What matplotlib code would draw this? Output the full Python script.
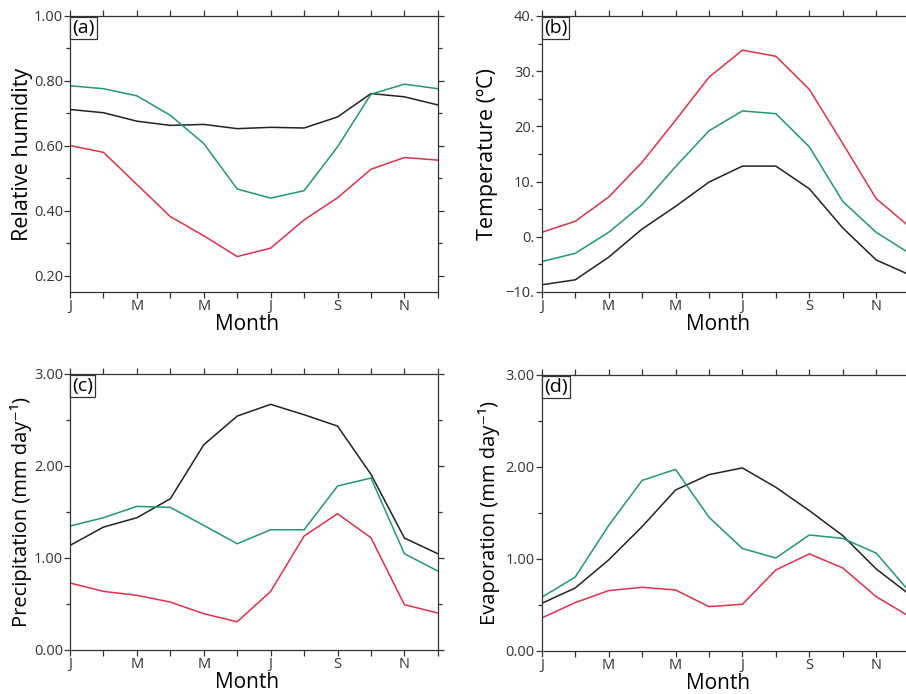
import matplotlib
matplotlib.use("Agg")
import matplotlib.pyplot as plt
from matplotlib.ticker import MultipleLocator, FuncFormatter

plt.rcParams["font.family"] = ["Open Sans", "DejaVu Sans"]

months = list(range(12))
month_labels = ["J", "", "M", "", "M", "", "J", "", "S", "", "N", ""]

# (a) relative humidity
rh_black = [0.712, 0.702, 0.676, 0.663, 0.666, 0.653, 0.657, 0.655, 0.689, 0.761, 0.751, 0.726]
rh_green = [0.785, 0.776, 0.754, 0.694, 0.607, 0.467, 0.439, 0.462, 0.597, 0.759, 0.790, 0.776]
rh_red = [0.601, 0.580, 0.481, 0.382, 0.323, 0.259, 0.285, 0.372, 0.440, 0.528, 0.564, 0.556]

# (b) temperature
t_black = [-8.7, -7.8, -3.7, 1.4, 5.5, 9.9, 12.8, 12.8, 8.7, 1.6, -4.2, -6.9]
t_green = [-4.5, -3.0, 0.8, 5.8, 12.7, 19.2, 22.8, 22.3, 16.3, 6.4, 0.8, -3.0]
t_red = [0.8, 2.8, 7.2, 13.5, 21.1, 28.9, 33.8, 32.7, 26.7, 16.9, 6.9, 1.8]

# (c) precipitation
p_black = [1.134, 1.333, 1.435, 1.641, 2.228, 2.540, 2.667, 2.554, 2.431, 1.906, 1.214, 1.043]
p_green = [1.344, 1.435, 1.558, 1.547, 1.351, 1.152, 1.304, 1.304, 1.779, 1.866, 1.043, 0.855]
p_red = [0.725, 0.634, 0.591, 0.518, 0.391, 0.304, 0.634, 1.236, 1.478, 1.217, 0.489, 0.399]

# (d) evaporation
e_black = [0.514, 0.681, 0.986, 1.348, 1.746, 1.913, 1.986, 1.775, 1.522, 1.250, 0.888, 0.609]
e_green = [0.580, 0.800, 1.360, 1.850, 1.970, 1.450, 1.110, 1.007, 1.257, 1.220, 1.060, 0.640]
e_red = [0.355, 0.522, 0.652, 0.688, 0.659, 0.478, 0.504, 0.877, 1.051, 0.899, 0.587, 0.370]

BLACK = "#222222"
GREEN = "#1f9a68"
RED = "#e0304a"

fig = plt.figure(figsize=(9.06, 6.94), dpi=100)

W, H = 0.406, 0.3977
panels = [
    ("(a)", [0.0773, 0.5793, W, H], (rh_black, rh_green, rh_red),
     "Relative humidity", 15.5, (0.15, 1.0), 0.2, 0.1, "{:.2f}", -0.10),
    ("(b)", [0.598, 0.5793, W, H], (t_black, t_green, t_red),
     "Temperature (ºC)", 15.5, (-10, 40), 10, 5, "deg", -0.119),
    ("(c)", [0.0773, 0.0638, W, H], (p_black, p_green, p_red),
     "Precipitation (mm day\u207b\u00b9)", 14.5, (0, 3), 1, 0.5, "{:.2f}", -0.103),
    ("(d)", [0.598, 0.0625, W, H], (e_black, e_green, e_red),
     "Evaporation (mm day\u207b\u00b9)", 14.5, (0, 3), 1, 0.5, "{:.2f}", -0.114),
]

for tag, rect, series, ylabel, yfs, ylim, major, minor, fmt, ylab_x in panels:
    ax = fig.add_axes(rect)
    for vals, col in zip(series, (BLACK, GREEN, RED)):
        ax.plot(months, vals, color=col, lw=1.1)
    ax.set_xlim(0, 11)
    ax.set_ylim(*ylim)
    ax.set_xticks(months)
    ax.set_xticklabels(month_labels)
    ax.yaxis.set_major_locator(MultipleLocator(major))
    ax.yaxis.set_minor_locator(MultipleLocator(minor))
    if fmt == "deg":
        ax.yaxis.set_major_formatter(FuncFormatter(
            lambda v, p: ("\u2212" if v < 0 else "") + "{:.0f}.".format(abs(v))))
    else:
        ax.yaxis.set_major_formatter(FuncFormatter(lambda v, p, f=fmt: f.format(v)))
    ax.tick_params(axis="both", which="both", direction="out", top=True, right=True,
                   length=4, width=0.9, color="#333333", labelsize=10.5,
                   labelcolor="#333333", pad=1)
    ax.tick_params(axis="y", which="minor", length=3)
    for sp in ax.spines.values():
        sp.set_linewidth(0.9)
        sp.set_color("#333333")
    ax.set_ylabel(ylabel, fontsize=yfs)
    ax.yaxis.set_label_coords(ylab_x, 0.5)
    ax.set_xlabel("Month", fontsize=15)
    ax.xaxis.set_label_coords(0.48, -0.08)
    ax.text(0.006, 0.988, tag, transform=ax.transAxes, fontsize=14, ha="left", va="top",
            bbox=dict(boxstyle="square,pad=0.1", fc="white", ec="#333333", lw=0.9))

fig.savefig("out.png", dpi=100)
